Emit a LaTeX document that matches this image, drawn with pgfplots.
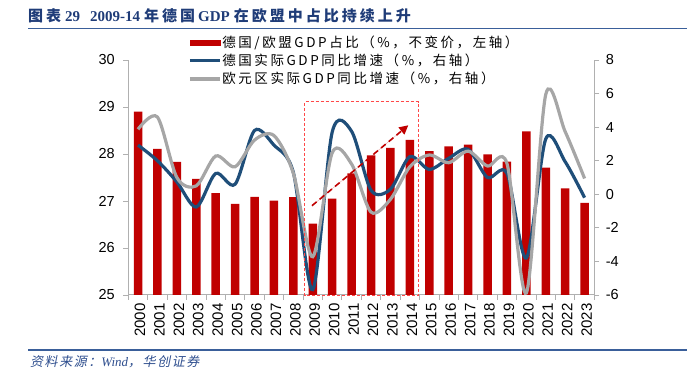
\documentclass[border=0pt]{standalone}
\usepackage{fontspec}
\usepackage{pgfplots}
\pgfplotsset{compat=1.18}
\usetikzlibrary{arrows.meta}
\setmainfont{Liberation Sans}
\newfontfamily\cjk{Noto Sans CJK SC}
\newfontfamily\cjkleg[LetterSpace=19]{Noto Sans CJK SC}
\newfontfamily\cjktitle[LetterSpace=20]{Noto Sans CJK SC}
\newfontfamily\cjksrc[LetterSpace=12,FakeSlant=0.2]{Noto Sans CJK SC}
\newfontfamily\serifb{Liberation Serif}
\definecolor{barred}{HTML}{C00000}
\definecolor{blueline}{HTML}{1F4E79}
\definecolor{grayline}{HTML}{A6A6A6}
\definecolor{titleblue}{HTML}{1F3C78}
\definecolor{ruleblue}{HTML}{3A5F9A}
\definecolor{srcblue}{HTML}{2E4E8E}
\definecolor{boxred}{HTML}{FF4848}
\definecolor{axgray}{HTML}{B0B0B0}
\begin{document}
\begin{tikzpicture}
\path[use as bounding box] (0pt,0pt) rectangle (687pt,379pt);
% title
\node[anchor=base west, inner sep=0pt, text=titleblue] at (28pt,357pt)
 {\bfseries\fontsize{15}{18}\selectfont{\cjktitle 图表}\hspace{4pt}{\serifb 29}\hspace{10pt}{\serifb 2009-14}\hspace{4pt}{\cjktitle 年德国}\hspace{3pt}{\serifb GDP}\hspace{4pt}{\cjktitle 在欧盟中占比持续上升}};
\draw[ruleblue, line width=1.6pt] (28pt,350.5pt) -- (687pt,350.5pt);
\draw[ruleblue, line width=1.6pt] (28pt,29pt) -- (687pt,29pt);
\node[anchor=base west, inner sep=0pt, text=srcblue] at (30pt,12pt)
 {\fontsize{13}{15}\selectfont{\cjksrc 资料来源：}{\serifb\itshape Wind}{\cjksrc ，华创证券}};

\begin{axis}[
  at={(128.3pt,84pt)}, anchor=south west,
  scale only axis, width=466pt, height=235pt,
  xmin=-0.5, xmax=23.5, ymin=25, ymax=30,
  axis x line*=bottom, axis y line*=left,
  axis line style={draw=axgray, line width=1pt},
  ytick={25,26,27,28,29,30},
  xtick={0,...,23},
  xticklabels={2000,2001,2002,2003,2004,2005,2006,2007,2008,2009,2010,2011,2012,2013,2014,2015,2016,2017,2018,2019,2020,2021,2022,2023},
  minor xtick={-0.5,0.5,...,23.5},
  major x tick style={draw=none},
  minor tick style={draw=axgray, line width=0.8pt},
  major tick style={draw=axgray, line width=0.8pt},
  tick align=outside, major tick length=5pt, minor tick length=5pt,
  /pgf/number format/assume math mode=true,
  yticklabel style={font=\fontsize{14.5}{15}\selectfont, xshift=-5pt},
  xticklabel style={font=\fontsize{15}{15}\selectfont, rotate=90, anchor=east, yshift=-2pt},
]
\addplot[ybar, bar width=8.5pt, fill=barred, draw=none] coordinates {
(0,28.90) (1,28.11) (2,27.83) (3,27.47) (4,27.17) (5,26.94) (6,27.09) (7,27.01)
(8,27.08) (9,26.52) (10,27.05) (11,27.59) (12,27.97) (13,28.13) (14,28.30)
(15,28.06) (16,28.16) (17,28.20) (18,27.99) (19,27.84) (20,28.48) (21,27.71)
(22,27.27) (23,26.96)};
\end{axis}

\begin{axis}[
  at={(128.3pt,84pt)}, anchor=south west,
  scale only axis, width=466pt, height=235pt,
  xmin=-0.5, xmax=23.5, ymin=-6, ymax=8,
  axis x line=none, axis y line*=right,
  axis line style={draw=axgray, line width=1pt},
  ytick={-6,-4,...,8},
  major tick style={draw=axgray, line width=0.8pt},
  tick align=outside, major tick length=5pt,
  /pgf/number format/assume math mode=true,
  yticklabel style={font=\fontsize{14.5}{15}\selectfont, xshift=3pt},
  clip=false,
  legend style={at={(0.128,1.106)}, anchor=north west, draw=none, fill=none,
    font=\cjkleg\fontsize{13.5}{15}\selectfont, row sep=3pt, inner sep=0pt,
    nodes={inner sep=1pt}},
  legend cell align=left,
  legend image code/.code={\draw[#1] (0pt,0pt) -- (30pt,0pt);},
]
\addlegendimage{legend image code/.code={\fill[barred] (0pt,-2.5pt) rectangle (30pt,2.5pt);}}
\addlegendentry{德国/欧盟GDP占比（\%，不变价，左轴）}
\addplot[blueline, line width=3.2pt, smooth, tension=0.5] coordinates {
(0,2.93) (1,2.0) (2,0.74) (3,-0.76) (4,1.24) (5,0.6) (6,3.8) (7,2.93) (8,1.3)
(9,-5.68) (10,3.7) (11,3.75) (12,0.24) (13,0.3) (14,2.24) (15,1.48) (16,2.14)
(17,2.68) (18,1.0) (19,1.25) (20,-3.8) (21,3.3) (22,1.94) (23,-0.2)};
\addlegendentry{德国实际GDP同比增速（\%，右轴）}
\addplot[grayline, line width=3.2pt, smooth, tension=0.5] coordinates {
(0,3.87) (1,4.6) (2,1.0) (3,0.5) (4,2.28) (5,1.64) (6,3.23) (7,3.5) (8,1.25)
(9,-3.72) (10,2.47) (11,1.8) (12,-1.06) (13,-0.3) (14,1.64) (15,2.34) (16,1.88)
(17,2.57) (18,1.68) (19,1.84) (20,-5.88) (21,5.95) (22,3.73) (23,0.94)};
\addlegendentry{欧元区实际GDP同比增速（\%，右轴）}
\draw[draw=boxred, line width=1pt, dash pattern=on 3pt off 2pt] (axis cs:8.58,-6.05) rectangle (axis cs:14.43,5.51);
\draw[draw=barred, fill=barred, line width=1.6pt, dash pattern=on 6pt off 4pt, -{Triangle[length=9pt,width=9pt]}] (axis cs:8.96,-0.68) -- (axis cs:13.92,4.11);
\end{axis}
\end{tikzpicture}
\end{document}
